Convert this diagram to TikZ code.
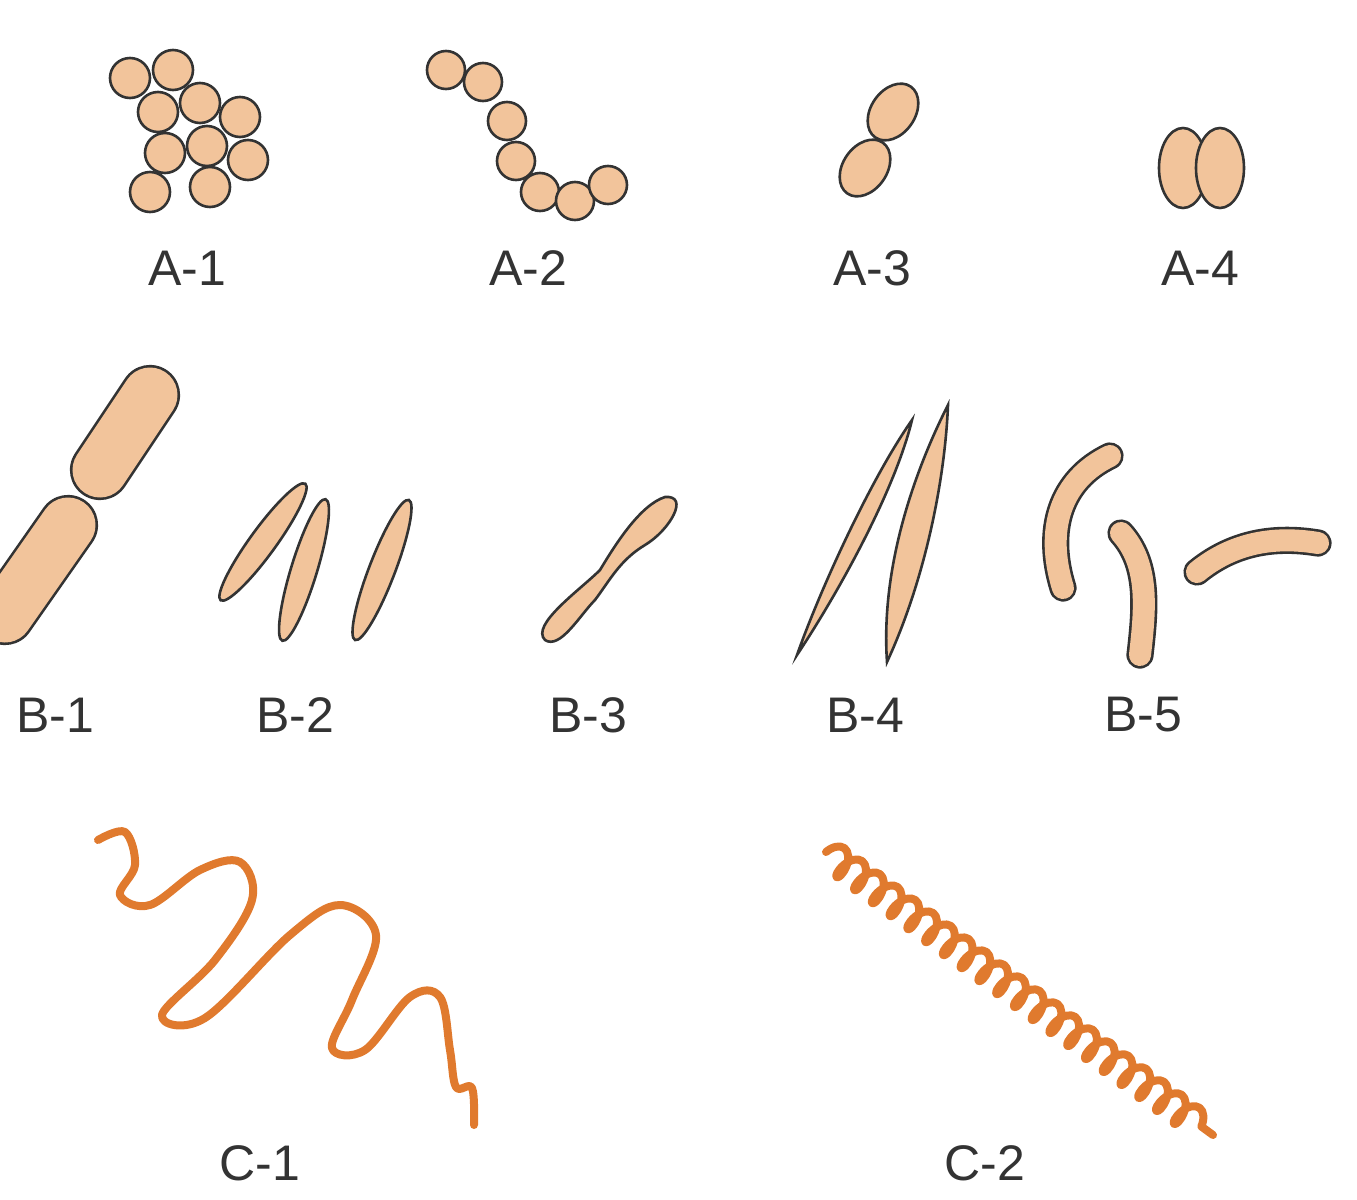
\documentclass[tikz,border=0pt]{standalone}
\usepackage{fontspec}
\setmainfont{Liberation Sans}
\usetikzlibrary{decorations.pathmorphing}
\definecolor{cell}{HTML}{F2C49B}
\definecolor{edge}{HTML}{333333}
\definecolor{spiro}{HTML}{E07A2E}
\tikzset{cellsty/.style={fill=cell,draw=edge,line width=1.3pt},
 lab/.style={font=\fontsize{25}{30}\selectfont,text=edge},
 spir/.style={draw=spiro,line width=4pt,line cap=round,line join=round},
 bigrod/.style={draw=cell,line width=27.5pt,line cap=round,preaction={draw=edge,line width=30.1pt,line cap=round}},
 smallrod/.style={draw=cell,line width=11pt,line cap=round,preaction={draw=edge,line width=13.6pt,line cap=round}}}
\begin{document}
\begin{tikzpicture}[x=0.5pt,y=-0.5pt]
\useasboundingbox (0,0) rectangle (1357,1200);
% A-1
\foreach \p in {(130,78),(173,70),(158,112),(200,103),(240,117),(165,153),(207,146),(248,160),(150,192),(210,187)}
  \draw[cellsty] \p circle (20);
% A-2
\foreach \p in {(446,70),(483,82),(507,121),(516,161),(540,192),(575,201),(608,185)}
  \draw[cellsty] \p circle (19);
% A-3
\draw[cellsty,rotate around={-35:(893,112)}] (893,112) ellipse (22 and 31);
\draw[cellsty,rotate around={-35:(865,168)}] (865,168) ellipse (22 and 31);
% A-4
\draw[cellsty] (1183,168) ellipse (24 and 40);
\draw[cellsty] (1220,168) ellipse (24 and 40);
% B-1
\draw[bigrod] (150,395) -- (100,470);
\draw[bigrod] (68,525) -- (5,615);
% B-2
\draw[cellsty,rotate around={54:(263,542)}] (263,542) ellipse (72 and 13);
\draw[cellsty,rotate around={73:(304,570)}] (304,570) ellipse (74 and 13);
\draw[cellsty,rotate around={69:(382,570)}] (382,570) ellipse (75 and 13);
% B-3
\draw[cellsty] (545,640) .. controls (530,625) and (580,590) .. (600,570)
  .. controls (615,545) and (640,505) .. (665,497) .. controls (690,495) and (670,530) .. (645,545)
  .. controls (620,560) and (610,580) .. (595,600) .. controls (580,615) and (560,650) .. (545,640) -- cycle;
% B-4
\draw[cellsty] (797,655) .. controls (820,590) and (870,480) .. (912,420) .. controls (895,490) and (840,590) .. (797,655) -- cycle;
\draw[cellsty] (887,662) .. controls (880,560) and (920,460) .. (948,405) .. controls (945,480) and (925,580) .. (887,662) -- cycle;
% B-5
\draw[smallrod] (1063,588) .. controls (1045,530) and (1060,480) .. (1110,456);
\draw[smallrod] (1121,533) .. controls (1150,565) and (1145,610) .. (1140,655);
\draw[smallrod] (1197,572) .. controls (1230,545) and (1270,535) .. (1318,543);
% C-1
\draw[spir] plot[smooth,tension=0.6] coordinates {(98,840) (125,832) (135,865) (120,895) (150,905) (200,870) (240,862) (252,900) (215,960) (162,1015) (205,1018) (290,935) (340,905) (376,935) (352,1000) (332,1048) (365,1050) (410,997) (440,997) (450,1050) (456,1087) (472,1088) (474,1125)};
% C-2
\draw[spir,decorate,decoration={coil,amplitude=7pt,segment length=11pt}] (826,852) -- (1213,1135);
% labels
\node[lab] (a1) at (187,268) {A-1};
\node[lab] (a2) at (528,268) {A-2};
\node[lab] (a3) at (872,268) {A-3};
\node[lab] (a4) at (1200,268) {A-4};
\node[lab] (b1) at (55,715) {B-1};
\node[lab] (b2) at (295,715) {B-2};
\node[lab] (b3) at (588,715) {B-3};
\node[lab] (b4) at (865,715) {B-4};
\node[lab] (b5) at (1143,715) {B-5};
\node[lab] (c1) at (260,1163) {C-1};
\node[lab] (c2) at (985,1163) {C-2};
\end{tikzpicture}
\end{document}
